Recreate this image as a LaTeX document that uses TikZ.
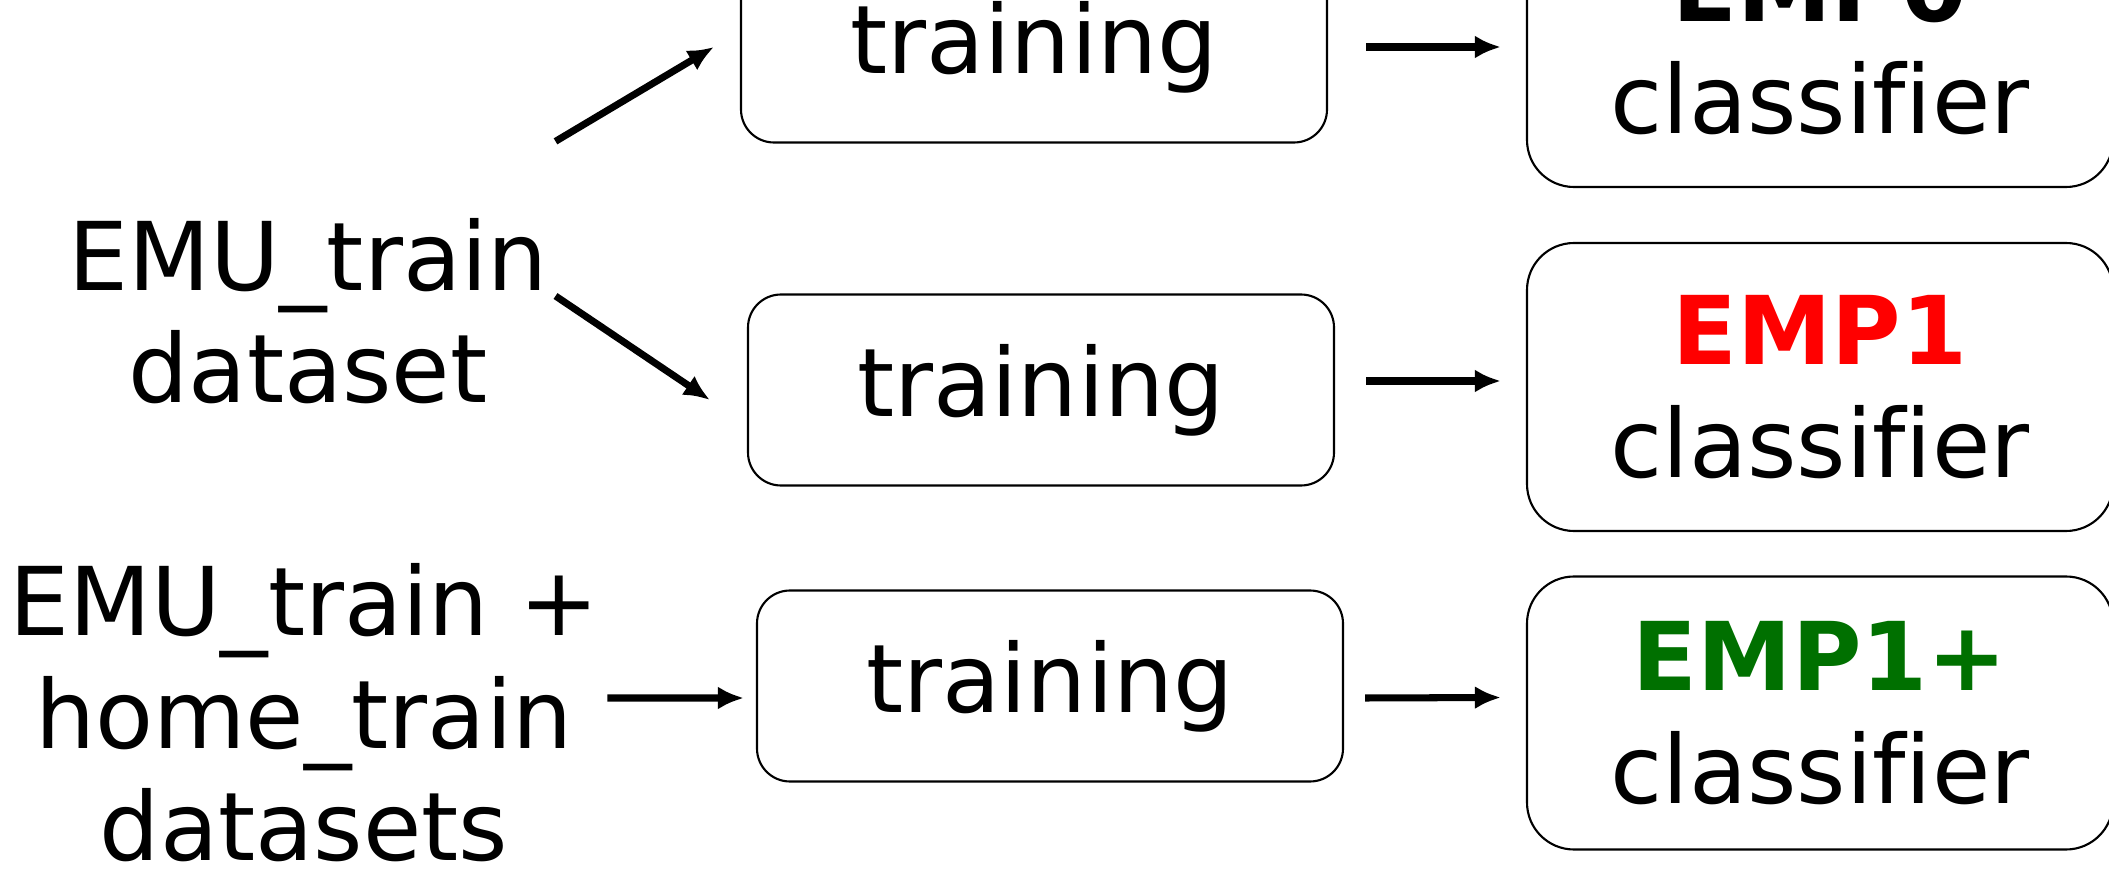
\documentclass[tikz,border=0pt]{standalone}
\usepackage{fontspec}
\setmainfont[Ligatures=NoCommon]{DejaVu Sans}
\usepackage{xcolor}
\usetikzlibrary{arrows.meta,positioning,calc}
\definecolor{empred}{RGB}{255,0,0}
\definecolor{empgreen}{RGB}{0,112,0}

\begin{document}
\begin{tikzpicture}[
	txt/.style={font=\fontsize{27}{32}\selectfont, align=center, inner sep=0pt},
	trainbox/.style={txt, draw, rounded corners=0.33cm, line width=0.6pt, minimum width=5.86cm, minimum height=1.91cm},
	clsbox/.style={txt, draw, rounded corners=0.47cm, line width=0.6pt, minimum width=5.86cm},
	arr/.style={-{Latex[length=0.26cm,width=0.23cm]}, line width=2pt}]
			\useasboundingbox (0,0) rectangle (21.09,-8.72);
			% datasets
			\node[txt] (data1) at (3.08,-3.11) {EMU\_train\\dataset};
			\node[txt] (data2) at (3.04,-7.13) {EMU\_train +\\home\_train\\datasets};
			% training steps
			\node[trainbox] (train1) at (10.34,-0.47) {training};
			\node[trainbox] (train2) at (10.41,-3.90) {training};
			\node[trainbox] (train3) at (10.50,-6.86) {training};
			% classifiers
			\node[clsbox, minimum height=2.88cm] (cls1) at (18.20,-0.43) {\textbf{EMP0}\\classifier};
			\node[clsbox, minimum height=2.88cm] (cls2) at (18.20,-3.87) {\textcolor{empred}{\textbf{EMP1}}\\classifier};
			\node[clsbox, minimum height=2.73cm] (cls3) at (18.20,-7.13) {\textcolor{empgreen}{\textbf{EMP1+}}\\classifier};
			% arrows
			\draw[arr] ($(data1.north east)+(0.07,0.76)$) -- ($(train1.west)+(-0.26,0.0)$);
			\draw[arr] ($(data1.east)+(0.07,0.15)$) -- ($(train2.west)+(-0.37,-0.1)$);
			\draw[arr] ($(data2.east)+(0.08,0.15)$) -- ($(train3.west)+(-0.12,-0.12)$);
			\draw[arr] ($(train1.east)+(0.38,0)$) -- ($(cls1.west |- train1.east)+(-0.25,0)$);
			\draw[arr] ($(train2.east)+(0.31,0.09)$) -- ($(cls2.west)+(-0.25,0.06)$);
			\draw[arr] ($(train3.east)+(0.21,-0.12)$) -- ($(cls3.west)+(-0.25,0.155)$);
		\end{tikzpicture}
\end{document}
